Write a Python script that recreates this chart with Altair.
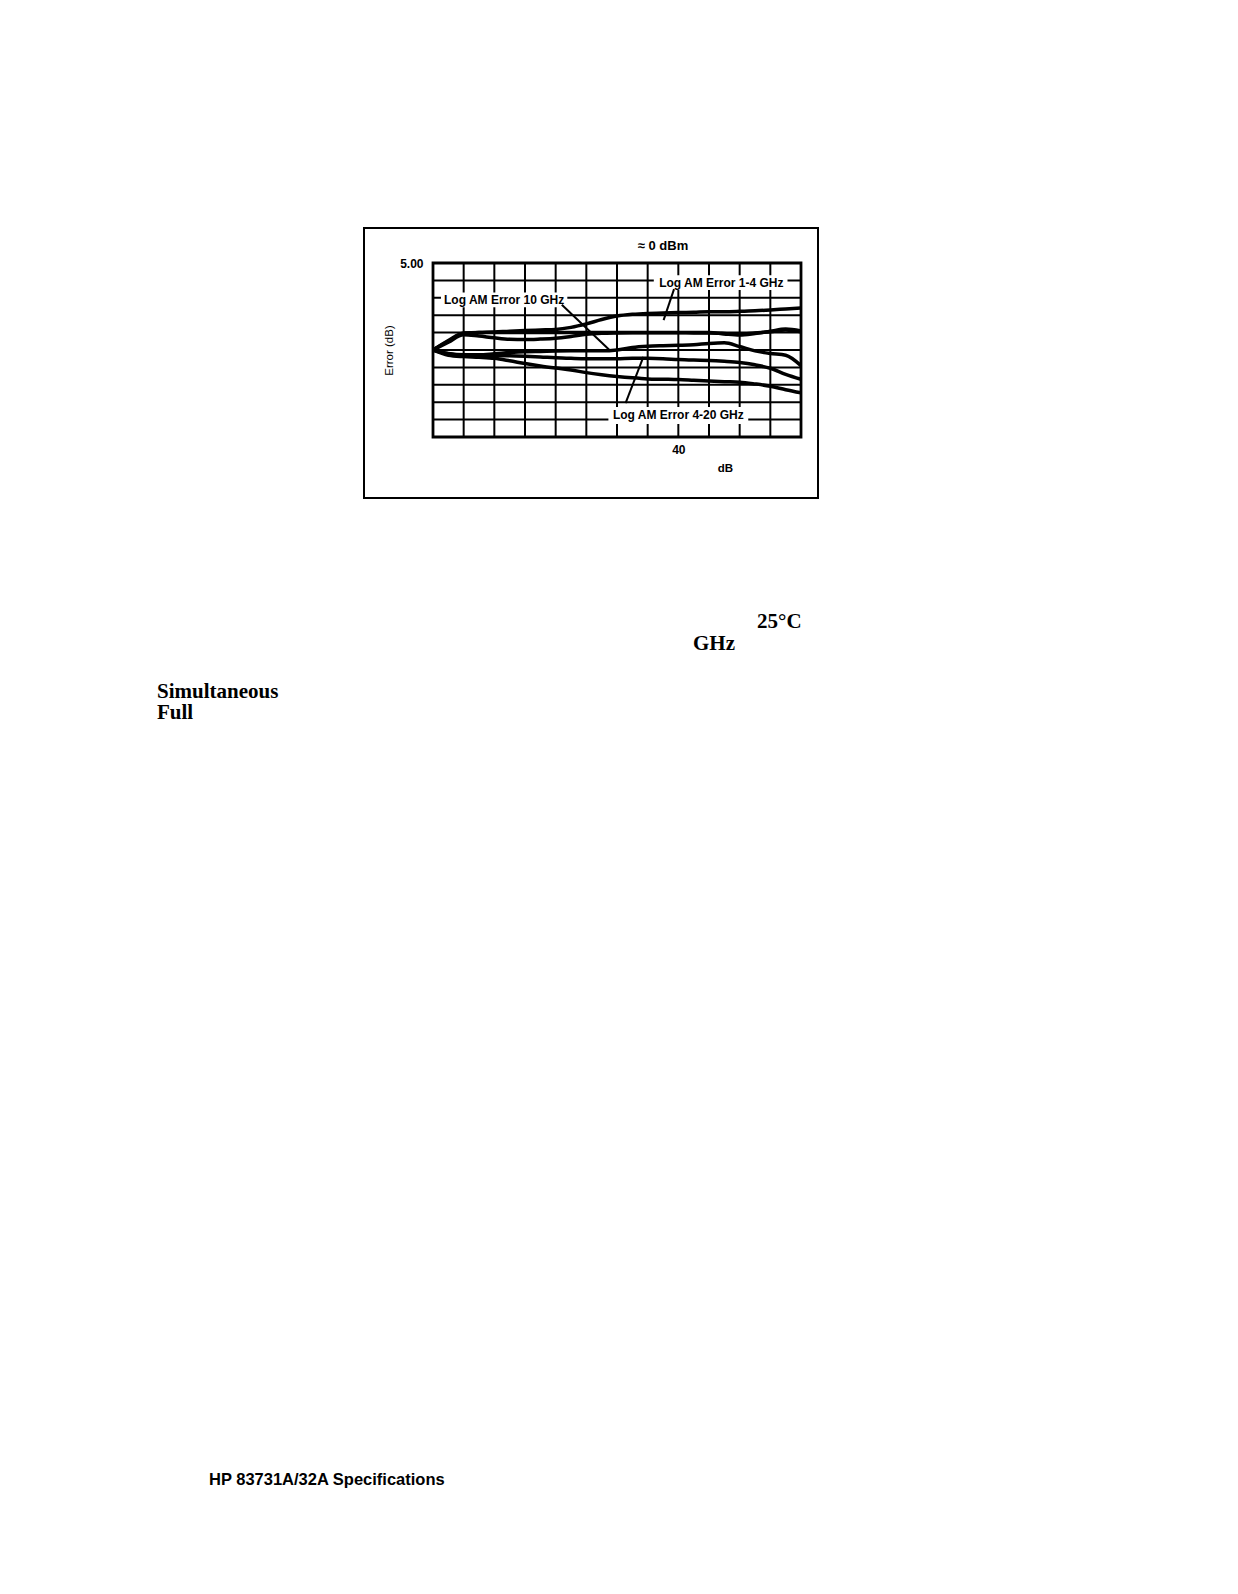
import altair as alt
import pandas as pd

# ---------------- data ----------------
X_DB = [0, 2.5, 5, 7.5, 10, 12.5, 15, 17.5, 20, 22.5, 25, 27.5, 30,
        32.5, 35, 37.5, 40, 42.5, 45, 47.5, 50, 52.5, 55, 57.5, 60]

ERR_1_4_GHZ = [0, 0.50, 0.95, 1.00, 1.03, 1.08, 1.12, 1.15, 1.18, 1.30, 1.50, 1.75, 1.95,
               2.05, 2.10, 2.12, 2.15, 2.17, 2.20, 2.20, 2.22, 2.25, 2.30, 2.36, 2.42]
ERR_FLAT = [0, 0.55, 0.98, 1.00, 1.00, 1.00, 1.00, 1.00, 1.00, 1.00, 1.00, 1.00, 1.00,
            1.00, 1.00, 1.00, 1.00, 1.00, 1.00, 0.92, 0.86, 0.95, 1.08, 1.20, 1.10]
ERR_DIP = [0, 0.45, 0.88, 0.80, 0.70, 0.62, 0.60, 0.63, 0.68, 0.78, 0.90, 0.96, 0.98,
           0.99, 0.99, 0.99, 0.99, 0.98, 0.98, 0.95, 0.90, 0.98, 1.05, 1.15, 1.05]
ERR_10_GHZ = [0, -0.20, -0.28, -0.28, -0.22, -0.15, -0.10, -0.08, -0.06, -0.05, -0.05, -0.05, 0.00,
              0.15, 0.22, 0.25, 0.27, 0.30, 0.38, 0.42, 0.20, -0.05, -0.20, -0.30, -0.90]
ERR_4_20_GHZ = [0, -0.22, -0.32, -0.33, -0.32, -0.33, -0.36, -0.40, -0.45, -0.48, -0.50, -0.50, -0.50,
                -0.48, -0.48, -0.50, -0.55, -0.58, -0.60, -0.65, -0.72, -0.85, -1.05, -1.40, -1.68]
ERR_LOW = [0, -0.30, -0.38, -0.42, -0.48, -0.62, -0.78, -0.92, -1.04, -1.15, -1.30, -1.42, -1.52,
           -1.60, -1.66, -1.68, -1.70, -1.74, -1.78, -1.82, -1.85, -1.95, -2.08, -2.28, -2.46]

CURVES = {
    "1-4 GHz": ERR_1_4_GHZ,
    "flat": ERR_FLAT,
    "dip": ERR_DIP,
    "10 GHz": ERR_10_GHZ,
    "4-20 GHz": ERR_4_20_GHZ,
    "low": ERR_LOW,
}

X_TICKS = list(range(0, 61, 5))
Y_TICKS = list(range(-5, 6, 1))

LABELS = ["Log AM Error 10 GHz", "Log AM Error 1-4 GHz", "Log AM Error 4-20 GHz"]

rows = []
for name, vals in CURVES.items():
    for xv, yv in zip(X_DB, vals):
        rows.append({"curve": name, "x": xv, "err": yv})
df = pd.DataFrame(rows)

# ---------------- annotation layout (data coordinates) ----------------
LABEL_POS = [(11.6, 2.87), (47.0, 3.87), (40.0, -3.76)]
LABEL_BOX = [(1.3, 21.9, 3.30, 2.45), (36.0, 57.8, 4.30, 3.45), (28.6, 51.4, -3.28, -4.25)]
POINTERS = [(21.0, 2.60, 28.9, -0.04), (39.3, 3.50, 37.6, 1.72), (31.4, -3.05, 34.3, -0.40)]

lab_df = pd.DataFrame({"text": LABELS,
                       "x": [p[0] for p in LABEL_POS], "y": [p[1] for p in LABEL_POS]})
box_df = pd.DataFrame(LABEL_BOX, columns=["x1", "x2", "y1", "y2"])
ptr_df = pd.DataFrame(POINTERS, columns=["x1", "y1", "x2", "y2"])
vgrid_df = pd.DataFrame({"x": X_TICKS})
hgrid_df = pd.DataFrame({"y": Y_TICKS})

# ---------------- styling ----------------
SANS = "Liberation Sans, Arial, Helvetica, sans-serif"
SERIF = "Liberation Serif, Times New Roman, serif"

W, H = 368, 174
xs = alt.Scale(domain=[0, 60], nice=False, zero=False)
ys = alt.Scale(domain=[-5, 5], nice=False, zero=False)

AX = alt.Axis(
    values=X_TICKS, grid=False, ticks=False, domain=False,
    labelExpr="datum.value == 40 ? '40' : ''",
    labelPadding=7, labelFlush=False, labelOverlap=False,
    title="dB", titleX=292, titleY=31, titleBaseline="middle", titleAlign="center",
)
AY = alt.Axis(
    values=Y_TICKS, grid=False, ticks=False, domain=False,
    labelExpr="datum.value == 5 ? '5.00' : ''",
    labelPadding=10, labelFlush=False, labelOverlap=False,
    title="Error (dB)", titleX=-44, titleY=87, titleAngle=270,
    titleBaseline="middle", titleAlign="center",
    titleFontWeight="normal", titleFontSize=11.5,
)

vgrid = alt.Chart(vgrid_df).mark_rule(color="black", strokeWidth=2).encode(
    x=alt.X("x:Q", scale=xs, axis=AX))
hgrid = alt.Chart(hgrid_df).mark_rule(color="black", strokeWidth=2).encode(
    y=alt.Y("y:Q", scale=ys, axis=AY))

lines = alt.Chart(df).mark_line(color="black", strokeWidth=3.5, interpolate="monotone").encode(
    x=alt.X("x:Q", scale=xs, axis=AX),
    y=alt.Y("err:Q", scale=ys, axis=AY),
    detail="curve:N",
)

boxes = alt.Chart(box_df).mark_rect(fill="white", color="white").encode(
    x=alt.X("x1:Q", scale=xs, axis=AX), x2="x2:Q",
    y=alt.Y("y1:Q", scale=ys, axis=AY), y2="y2:Q")

labels = alt.Chart(lab_df).mark_text(font=SANS, fontSize=12, fontWeight="bold",
                                     color="black", align="center", baseline="middle").encode(
    x=alt.X("x:Q", scale=xs, axis=AX), y=alt.Y("y:Q", scale=ys, axis=AY), text="text:N")

pointers = alt.Chart(ptr_df).mark_rule(color="black", strokeWidth=2).encode(
    x=alt.X("x1:Q", scale=xs, axis=AX), y=alt.Y("y1:Q", scale=ys, axis=AY),
    x2="x2:Q", y2="y2:Q")


def page_text(txt, px, py, font, size, weight="bold", align="left"):
    return alt.Chart().mark_text(text=txt, font=font, fontSize=size, fontWeight=weight,
                                 color="black", align=align, baseline="middle").encode(
        x=alt.value(px), y=alt.value(py))


frame = alt.Chart().mark_rect(fill="white", fillOpacity=0, stroke="black", strokeWidth=2).encode(
    x=alt.value(-69), x2=alt.value(385), y=alt.value(-35), y2=alt.value(235))

# plot origin in page px = (433, 263)
layers = [
    vgrid,
    hgrid,
    lines,
    boxes,
    labels,
    pointers,
    frame,
    page_text("\u2248 0 dBm", 663 - 433, 246 - 263, SANS, 13, align="center"),
    page_text("25\u00b0C", 757 - 433, 622 - 263, SERIF, 21),
    page_text("GHz", 693 - 433, 644 - 263, SERIF, 21),
    page_text("Simultaneous", 157 - 433, 692 - 263, SERIF, 21),
    page_text("Full", 157 - 433, 713 - 263, SERIF, 21),
    page_text("HP 83731A/32A Specifications", 209 - 433, 1480 - 263, SANS, 16.5),
]

chart = alt.layer(*layers).properties(
    width=W, height=H,
    padding={"left": 425, "top": 255, "right": 400, "bottom": 1150},
    autosize=alt.AutoSizeParams(type="none"),
).configure_view(
    stroke="black", strokeWidth=2.8,
).configure_axis(
    labelFont=SANS, labelFontSize=12, labelFontWeight="bold", labelColor="black",
    titleFont=SANS, titleFontSize=11.5, titleFontWeight="bold", titleColor="black",
)

chart.save("out.html", embed_options={"renderer": "svg", "actions": False})
